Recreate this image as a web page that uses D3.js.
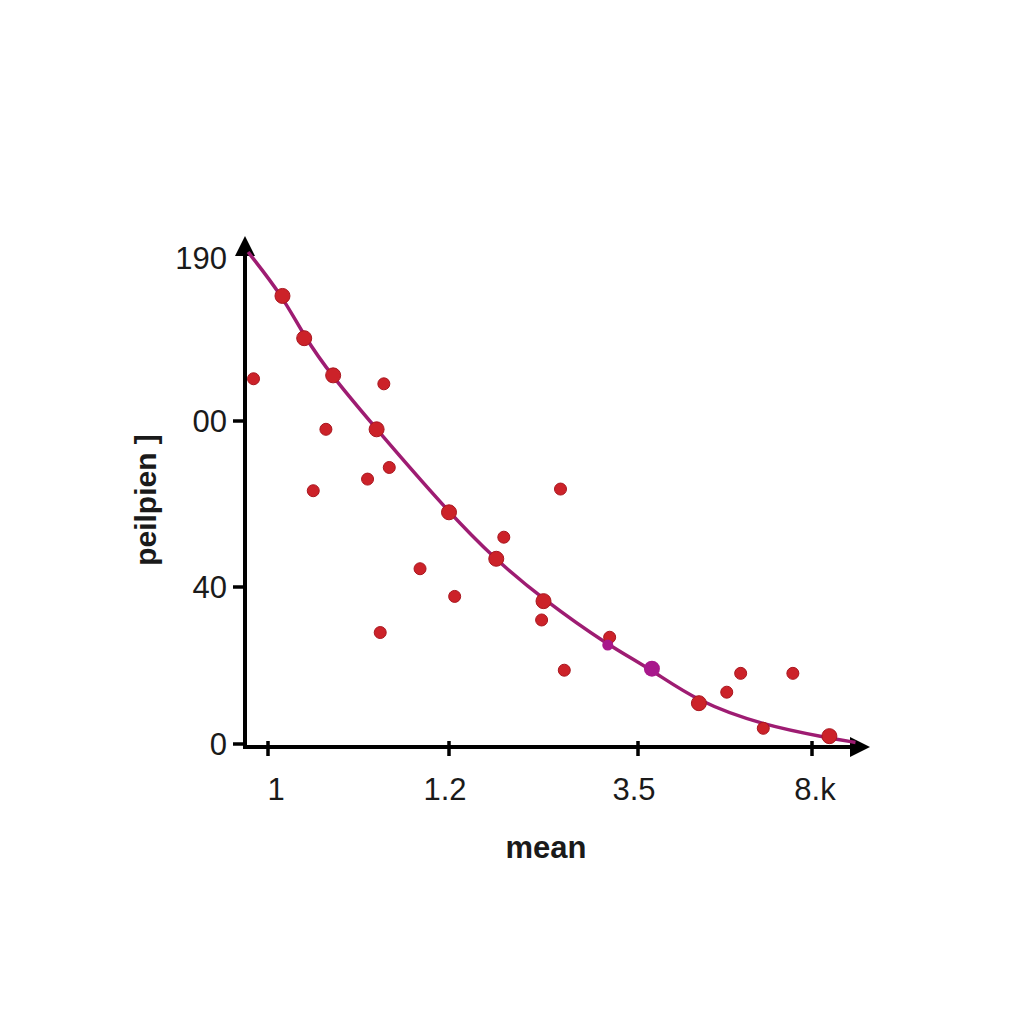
<!DOCTYPE html>
<html>
<head>
<meta charset="utf-8">
<script src="https://cdn.jsdelivr.net/npm/d3@7"></script>
<style>
  body { margin: 0; background: #fff; }
  text { font-family: "Liberation Sans", Arial, sans-serif; fill: #1a1a1a; }
</style>
</head>
<body>
<div id="chart"></div>
<script>
// tick labels (values are tick positions along each axis)
var xTickVals = [0, 1, 2, 3]
var xTickLabels = ["1", "1.2", "3.5", "8.k"]
var yTickVals = [0, 1, 2, 3]
var yTickLabels = ["0", "40", "00", "190"]

// fitted curve
var curveX = [-0.11, 0.08, 0.20, 0.35, 0.60, 0.99, 1.24, 1.50, 1.84, 2.07, 2.34, 2.72, 3.09, 3.25]
var curveY = [3.00, 2.74, 2.50, 2.27, 1.95, 1.46, 1.17, 0.92, 0.63, 0.48, 0.27, 0.12, 0.04, 0.01]

// points sitting on the curve (bigger dots)
var onX = [0.08, 0.20, 0.36, 0.60, 1.00, 1.25, 1.50, 2.35, 3.10]
var onY = [2.74, 2.49, 2.27, 1.95, 1.45, 1.17, 0.91, 0.26, 0.05]

// scattered points
var offX = [-0.08, 0.64, 0.32, 0.25, 0.55, 0.67, 0.84, 1.03, 0.62, 1.29, 1.59, 1.49, 1.61, 1.85, 2.51, 2.59, 2.89, 2.72]
var offY = [2.25, 2.22, 1.95, 1.58, 1.65, 1.72, 1.11, 0.94, 0.71, 1.30, 1.59, 0.79, 0.47, 0.68, 0.33, 0.45, 0.45, 0.10]

// highlighted (purple) points
var hiX = [2.08, 1.84]
var hiY = [0.48, 0.63]
var hiR = [8, 5.5]

var width = 1024, height = 1024

var svg = d3.select("#chart").append("svg")
  .attr("width", width)
  .attr("height", height)

// tick spacing in the picture is a little uneven, so piecewise scales
var x = d3.scaleLinear().domain(xTickVals).range([268, 449, 638, 812])
var y = d3.scaleLinear().domain(yTickVals).range([744, 587, 421, 252])

var axisX = 245, axisY = 747

// arrow heads
var defs = svg.append("defs")
defs.append("marker")
  .attr("id", "arrow")
  .attr("viewBox", "0 0 10 10")
  .attr("refX", 2).attr("refY", 5)
  .attr("markerWidth", 5).attr("markerHeight", 5)
  .attr("markerUnits", "strokeWidth")
  .attr("orient", "auto")
  .append("path")
  .attr("d", "M0,0 L10,5 L0,10 z")
  .attr("fill", "#000")

// y ticks
svg.selectAll(".ytick")
  .data(yTickVals.slice(0, 3))
  .enter().append("line")
  .attr("x1", axisX - 12).attr("x2", axisX)
  .attr("y1", d => y(d)).attr("y2", d => y(d))
  .attr("stroke", "#000").attr("stroke-width", 3.5)

svg.selectAll(".ylab")
  .data(yTickVals)
  .enter().append("text")
  .attr("x", 227)
  .attr("y", d => d == 3 ? 258 : y(d))
  .attr("dy", "0.36em")
  .attr("text-anchor", "end")
  .attr("font-size", 31)
  .text((d, i) => yTickLabels[i])

// x ticks
svg.selectAll(".xtick")
  .data(xTickVals)
  .enter().append("line")
  .attr("x1", d => x(d)).attr("x2", d => x(d))
  .attr("y1", axisY - 6).attr("y2", axisY + 9)
  .attr("stroke", "#000").attr("stroke-width", 3.5)

svg.selectAll(".xlab")
  .data(xTickVals)
  .enter().append("text")
  .attr("x", (d, i) => x(d) + [8, -4, -4, 3][i])
  .attr("y", 800)
  .attr("text-anchor", "middle")
  .attr("font-size", 31)
  .text((d, i) => xTickLabels[i])

// axes lines
svg.append("line")
  .attr("x1", axisX).attr("y1", axisY + 2)
  .attr("x2", axisX).attr("y2", 252)
  .attr("stroke", "#000").attr("stroke-width", 4)
  .attr("marker-end", "url(#arrow)")
svg.append("line")
  .attr("x1", axisX - 2).attr("y1", axisY)
  .attr("x2", 854).attr("y2", axisY)
  .attr("stroke", "#000").attr("stroke-width", 4)
  .attr("marker-end", "url(#arrow)")

// curve
var curveData = curveX.map((d, i) => [d, curveY[i]])
var line = d3.line()
  .x(d => x(d[0]))
  .y(d => y(d[1]))
  .curve(d3.curveBasis)
svg.append("path")
  .datum(curveData)
  .attr("d", line)
  .attr("fill", "none")
  .attr("stroke", "#9e1c72")
  .attr("stroke-width", 3.5)

// scattered dots
svg.selectAll(".off")
  .data(offX.map((d, i) => [d, offY[i]]))
  .enter().append("circle")
  .attr("cx", d => x(d[0]))
  .attr("cy", d => y(d[1]))
  .attr("r", 6)
  .attr("fill", "#cc2229")
  .attr("stroke", "#a9161f").attr("stroke-width", 1)

// dots on the curve
svg.selectAll(".on")
  .data(onX.map((d, i) => [d, onY[i]]))
  .enter().append("circle")
  .attr("cx", d => x(d[0]))
  .attr("cy", d => y(d[1]))
  .attr("r", 7.5)
  .attr("fill", "#cc2229")
  .attr("stroke", "#a9161f").attr("stroke-width", 1)

// purple dots
svg.selectAll(".hi")
  .data(hiX.map((d, i) => [d, hiY[i], hiR[i]]))
  .enter().append("circle")
  .attr("cx", d => x(d[0]))
  .attr("cy", d => y(d[1]))
  .attr("r", d => d[2])
  .attr("fill", "#a8188c")

// axis titles
svg.append("text")
  .attr("x", 546).attr("y", 858)
  .attr("text-anchor", "middle")
  .attr("font-size", 31)
  .attr("font-weight", "bold")
  .text("mean")

svg.append("text")
  .attr("transform", "translate(156,500) rotate(-90)")
  .attr("text-anchor", "middle")
  .attr("font-size", 30)
  .attr("font-weight", "bold")
  .text("peilpien ]")
</script>
</body>
</html>
